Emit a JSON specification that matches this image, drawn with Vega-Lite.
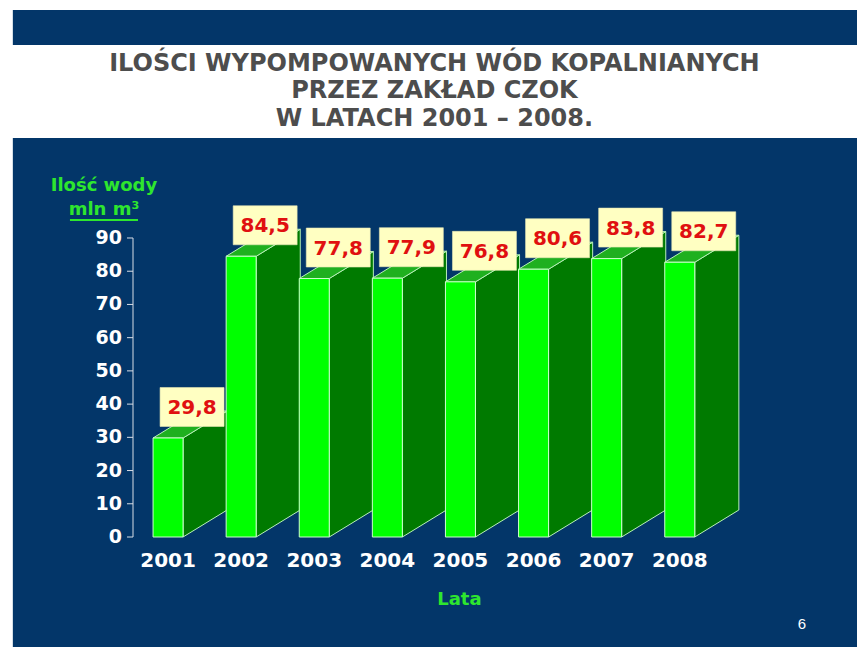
{
  "$schema": "https://vega.github.io/schema/vega-lite/v6.json",
  "background": "#ffffff",
  "autosize": {"type": "none"},
  "padding": {"left": 133, "top": 138, "right": 0, "bottom": 110},
  "width": 724,
  "height": 399,
  "config": {"view": {"stroke": null}, "font": "DejaVu Sans"},
  "datasets": {
    "bars": [
      {"year": 2001, "value": 29.8},
      {"year": 2002, "value": 84.5},
      {"year": 2003, "value": 77.8},
      {"year": 2004, "value": 77.9},
      {"year": 2005, "value": 76.8},
      {"year": 2006, "value": 80.6},
      {"year": 2007, "value": 83.8},
      {"year": 2008, "value": 82.7}
    ],
    "ticks": [
      {"v": 0}, {"v": 10}, {"v": 20}, {"v": 30}, {"v": 40},
      {"v": 50}, {"v": 60}, {"v": 70}, {"v": 80}, {"v": 90}
    ]
  },
  "layer": [
    {
      "data": {"values": [{"part": "top band"}, {"part": "panel"}]},
      "transform": [
        {"calculate": "datum.part == 'panel' ? 120.1 : 158.63", "as": "ya"},
        {"calculate": "datum.part == 'panel' ? -33.11 : 148.09", "as": "yb"}
      ],
      "mark": {"type": "rect", "fill": "#033669", "stroke": null},
      "encoding": {
        "x": {"datum": 1998.8767, "type": "quantitative", "scale": {"domain": [2000.5205, 2010.4247], "nice": false, "zero": false, "padding": 0}, "axis": null},
        "x2": {"datum": 2010.4247},
        "y": {"field": "ya", "type": "quantitative", "scale": {"domain": [0, 120.1], "nice": false, "zero": false, "padding": 0}, "axis": null},
        "y2": {"field": "yb"}
      }
    },
    {
      "data": {"values": [{"line": "ILOŚCI  WYPOMPOWANYCH  WÓD KOPALNIANYCH\nPRZEZ ZAKŁAD CZOK\nW  LATACH 2001 – 2008."}]},
      "mark": {"type": "text", "font": "DejaVu Sans", "fontWeight": "bold", "fontSize": 24, "fill": "#4d4d4d", "align": "center", "baseline": "alphabetic", "lineBreak": "\n", "lineHeight": 27.5},
      "encoding": {
        "x": {"datum": 2004.644, "type": "quantitative", "axis": null},
        "y": {"datum": 140.27, "type": "quantitative", "axis": null},
        "text": {"field": "line"}
      }
    },
    {
      "data": {"values": [{}]},
      "mark": {"type": "rule", "color": "#d8dde6", "strokeWidth": 1},
      "encoding": {
        "x": {"datum": 2000.5205, "type": "quantitative", "axis": null},
        "y": {"datum": 0, "type": "quantitative", "axis": null},
        "y2": {"datum": 90}
      }
    },
    {
      "data": {"name": "ticks"},
      "mark": {"type": "rule", "color": "#d8dde6", "strokeWidth": 1},
      "encoding": {
        "x": {"datum": 2000.4383, "type": "quantitative", "axis": null},
        "x2": {"datum": 2000.5205},
        "y": {"field": "v", "type": "quantitative", "axis": null}
      }
    },
    {
      "data": {"name": "ticks"},
      "mark": {"type": "text", "font": "DejaVu Sans", "fontWeight": "bold", "fontSize": 19, "fill": "#ffffff", "align": "right", "baseline": "middle", "dx": -11},
      "encoding": {
        "x": {"datum": 2000.5205, "type": "quantitative", "axis": null},
        "y": {"field": "v", "type": "quantitative", "axis": null},
        "text": {"field": "v", "type": "nominal"}
      }
    },
    {
      "data": {"values": [{"t": "Ilość wody\nmln m³"}]},
      "mark": {"type": "text", "font": "DejaVu Sans", "fontWeight": "bold", "fontSize": 18, "fill": "#2ee62e", "align": "center", "baseline": "alphabetic", "lineBreak": "\n", "lineHeight": 24},
      "encoding": {
        "x": {"datum": 2000.1233, "type": "quantitative", "axis": null},
        "y": {"datum": 104.15, "type": "quantitative", "axis": null},
        "text": {"field": "t"}
      }
    },
    {
      "data": {"values": [{}]},
      "mark": {"type": "rule", "color": "#2ee62e", "strokeWidth": 2},
      "encoding": {
        "x": {"datum": 1999.658, "type": "quantitative", "axis": null},
        "x2": {"datum": 2000.589},
        "y": {"datum": 95.4, "type": "quantitative", "axis": null}
      }
    },
    {
      "data": {"name": "bars"},
      "transform": [
        {"calculate": "[0,1]", "as": "k"},
        {"flatten": ["k"]},
        {"calculate": "datum.year + 0.2055 + datum.k * 0.603", "as": "sx"},
        {"calculate": "datum.k * 8.13", "as": "sy0"},
        {"calculate": "datum.value + datum.k * 8.13", "as": "sy1"}
      ],
      "mark": {"type": "area", "orient": "vertical", "fill": "#007a00", "stroke": "#b8f0b8", "strokeWidth": 1},
      "encoding": {
        "x": {"field": "sx", "type": "quantitative", "axis": null},
        "y": {"field": "sy0", "type": "quantitative", "axis": null},
        "y2": {"field": "sy1"},
        "detail": {"field": "year", "type": "nominal"}
      }
    },
    {
      "data": {"name": "bars"},
      "transform": [
        {"calculate": "[0,1]", "as": "k"},
        {"flatten": ["k"]},
        {"calculate": "datum.year - 0.2055 + datum.k * 0.603", "as": "tx0"},
        {"calculate": "datum.year + 0.2055 + datum.k * 0.603", "as": "tx1"},
        {"calculate": "datum.value + datum.k * 8.13", "as": "ty"}
      ],
      "mark": {"type": "area", "orient": "horizontal", "fill": "#1fb01f", "stroke": "#b8f0b8", "strokeWidth": 1},
      "encoding": {
        "y": {"field": "ty", "type": "quantitative", "axis": null},
        "x": {"field": "tx0", "type": "quantitative", "axis": null},
        "x2": {"field": "tx1"},
        "detail": {"field": "year", "type": "nominal"}
      }
    },
    {
      "data": {"name": "bars"},
      "mark": {"type": "bar", "width": 30, "fill": "#00ff00", "stroke": "#ccffcc", "strokeWidth": 1},
      "encoding": {
        "x": {"field": "year", "type": "quantitative", "axis": null},
        "y": {"field": "value", "type": "quantitative", "axis": null},
        "y2": {"datum": 0}
      }
    },
    {
      "data": {"name": "bars"},
      "mark": {"type": "text", "font": "DejaVu Sans", "fontWeight": "bold", "fontSize": 20, "fill": "#ffffff", "align": "center", "baseline": "alphabetic", "dy": 30},
      "encoding": {
        "x": {"field": "year", "type": "quantitative", "axis": null},
        "y": {"datum": 0, "type": "quantitative", "axis": null},
        "text": {"field": "year", "type": "nominal"}
      }
    },
    {
      "data": {"values": [{"t": "Lata"}]},
      "mark": {"type": "text", "font": "DejaVu Sans", "fontWeight": "bold", "fontSize": 18, "fill": "#2ee62e", "align": "center", "baseline": "alphabetic"},
      "encoding": {
        "x": {"datum": 2004.986, "type": "quantitative", "axis": null},
        "y": {"datum": -20.32, "type": "quantitative", "axis": null},
        "text": {"field": "t"}
      }
    },
    {
      "data": {"name": "bars"},
      "mark": {"type": "point", "shape": "M-1.64,-1H1.64V1H-1.64Z", "size": 1521, "filled": true, "fill": "#ffffc2", "stroke": "#e5e5b5", "strokeWidth": 0.6, "opacity": 1, "xOffset": 24, "yOffset": -31},
      "encoding": {
        "x": {"field": "year", "type": "quantitative", "axis": null},
        "y": {"field": "value", "type": "quantitative", "axis": null}
      }
    },
    {
      "data": {"name": "bars"},
      "transform": [
        {"calculate": "replace(format(datum.value, '.1f'), '.', ',')", "as": "lbl"}
      ],
      "mark": {"type": "text", "font": "DejaVu Sans", "fontWeight": "bold", "fontSize": 20, "fill": "#e01010", "dx": 24, "dy": -30, "align": "center", "baseline": "middle"},
      "encoding": {
        "x": {"field": "year", "type": "quantitative", "axis": null},
        "y": {"field": "value", "type": "quantitative", "axis": null},
        "text": {"field": "lbl"}
      }
    },
    {
      "data": {"values": [{"page": "6"}]},
      "mark": {"type": "text", "font": "Liberation Sans", "fontSize": 15, "fill": "#ffffff", "align": "center", "baseline": "middle"},
      "encoding": {
        "x": {"datum": 2009.671, "type": "quantitative", "axis": null},
        "y": {"datum": -26.2, "type": "quantitative", "axis": null},
        "text": {"field": "page"}
      }
    }
  ]
}
